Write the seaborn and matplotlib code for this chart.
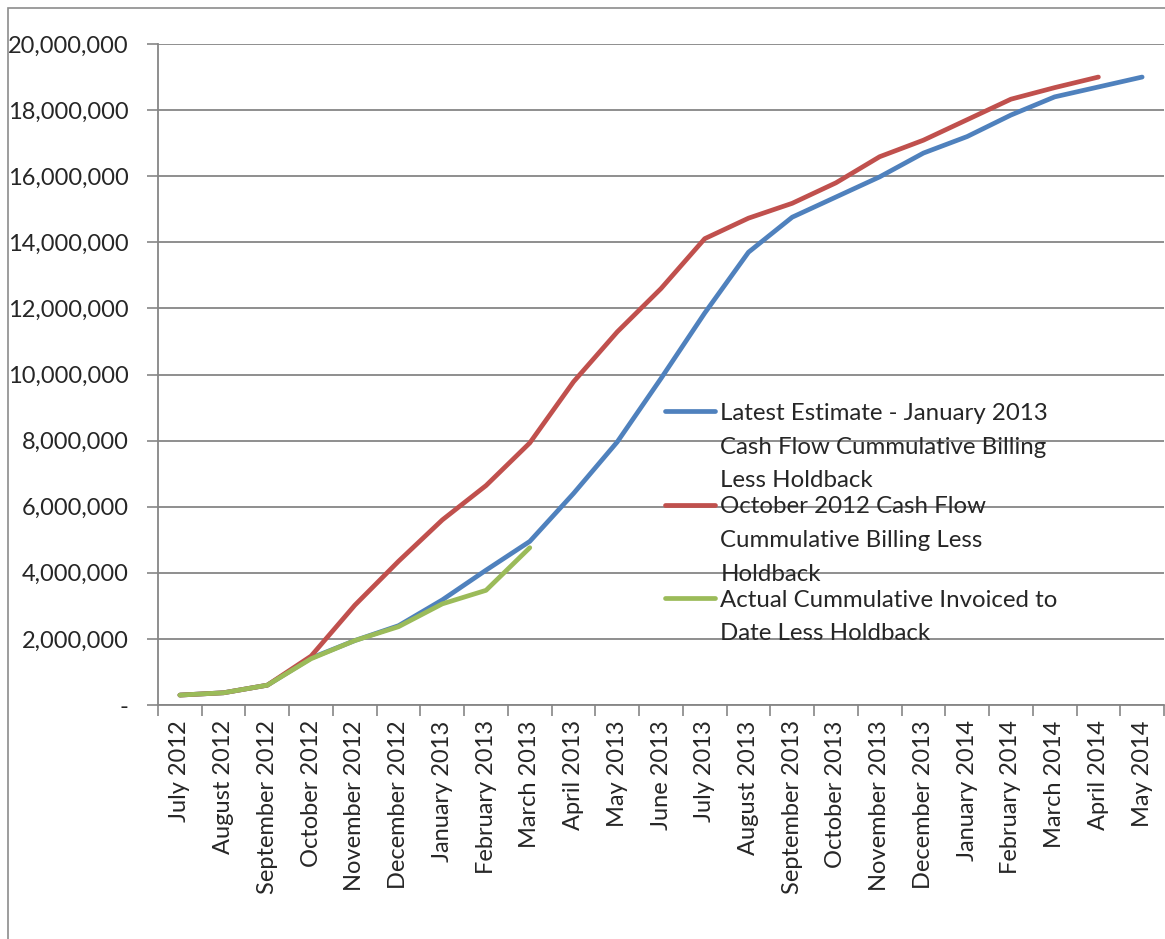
import numpy as np
import pandas as pd
import matplotlib
matplotlib.use("Agg")
import matplotlib.pyplot as plt
import seaborn as sns
from matplotlib.lines import Line2D
from matplotlib.patches import Rectangle
from matplotlib.offsetbox import HPacker
from matplotlib.ticker import FuncFormatter, FixedLocator

months = ["July 2012", "August 2012", "September 2012", "October 2012", "November 2012",
          "December 2012", "January 2013", "February 2013", "March 2013", "April 2013",
          "May 2013", "June 2013", "July 2013", "August 2013", "September 2013",
          "October 2013", "November 2013", "December 2013", "January 2014",
          "February 2014", "March 2014", "April 2014", "May 2014"]

latest_estimate = [300000, 370000, 600000, 1420000, 1950000, 2400000, 3180000, 4080000,
                   4950000, 6400000, 7960000, 9880000, 11860000, 13700000, 14760000,
                   15370000, 15980000, 16700000, 17200000, 17850000, 18400000, 18700000,
                   19000000]
october_2012 = [300000, 370000, 600000, 1480000, 3020000, 4350000, 5600000, 6640000,
                7930000, 9780000, 11290000, 12600000, 14110000, 14730000, 15180000,
                15800000, 16590000, 17090000, 17710000, 18330000, 18680000, 19000000,
                np.nan]
actual_invoiced = [300000, 370000, 600000, 1400000, 1950000, 2370000, 3060000, 3470000,
                   4760000] + [np.nan] * 14

series_names = ["Latest Estimate - January 2013 Cash Flow Cummulative Billing Less Holdback",
                "October 2012 Cash Flow Cummulative Billing Less Holdback",
                "Actual Cummulative Invoiced to Date Less Holdback"]
legend_labels = ["Latest Estimate - January 2013\nCash Flow Cummulative Billing\nLess Holdback",
                 "October 2012 Cash Flow\nCummulative Billing Less\nHoldback",
                 "Actual Cummulative Invoiced to\nDate Less Holdback"]
colors = ["#4F81BD", "#C0504D", "#9BBB59"]
y_ticks = list(range(0, 20000001, 2000000))

sns.set_theme(style="white")
plt.rcParams["font.family"] = ["Lato", "DejaVu Sans"]

rows = []
for name, vals in zip(series_names, [latest_estimate, october_2012, actual_invoiced]):
    for i, (m, v) in enumerate(zip(months, vals)):
        rows.append({"pos": i, "month": m, "value": v, "series": name})
df = pd.DataFrame(rows).dropna()

fig = plt.figure(figsize=(11.65, 9.39), dpi=100)
ax = fig.add_axes([158 / 1165, 1 - 705 / 939, 1006 / 1165, (705 - 44) / 939])

sns.lineplot(data=df, x="pos", y="value", hue="series", hue_order=series_names,
             palette=dict(zip(series_names, colors)), linewidth=3.4, sort=False,
             legend=False, ax=ax, solid_capstyle="round", solid_joinstyle="round")

ax.set_xlim(-0.5, len(months) - 0.5)
ax.set_ylim(0, 20000000)
ax.set_yticks(y_ticks)
ax.yaxis.set_major_formatter(FuncFormatter(lambda v, p: "-" if v == 0 else f"{v:,.0f}"))
ax.grid(axis="y", color="#868686", linewidth=1.3)
ax.set_axisbelow(True)

ax.set_xticks(range(len(months)))
ax.set_xticklabels(months, rotation=90, fontsize=17)
ax.xaxis.set_minor_locator(FixedLocator(np.arange(-0.5, len(months), 1.0)))
ax.tick_params(axis="x", which="major", length=0, pad=11)
ax.tick_params(axis="x", which="minor", length=8, width=1.2, color="#868686", bottom=True)
ax.tick_params(axis="y", which="major", length=8, width=1.2, color="#868686", left=True,
               labelsize=17, pad=13)
ax.set_xlabel("")
ax.set_ylabel("")

for s in ["top", "right"]:
    ax.spines[s].set_visible(False)
for s in ["left", "bottom"]:
    ax.spines[s].set_color("#868686")
    ax.spines[s].set_linewidth(1.3)

handles = [Line2D([], [], color=c, linewidth=3.4, solid_capstyle="round") for c in colors]
leg = fig.legend(handles, legend_labels, loc="upper left",
                 bbox_to_anchor=(665 / 1165, 1 - 403 / 939), frameon=False,
                 fontsize=17.3, handlelength=2.1, handletextpad=0.2, labelspacing=0.22,
                 borderpad=0, borderaxespad=0)
for t in leg.get_texts():
    t.set_linespacing(1.74)
for hp in leg.findobj(HPacker):
    hp.align = "top"

fig.add_artist(Rectangle((8 / 1165, -0.05), 1.2, 1.05 - 8 / 939, transform=fig.transFigure,
                         fill=False, edgecolor="#8c8c8c", linewidth=1.2, clip_on=False))

fig.savefig("out.png", dpi=100, facecolor="white")
